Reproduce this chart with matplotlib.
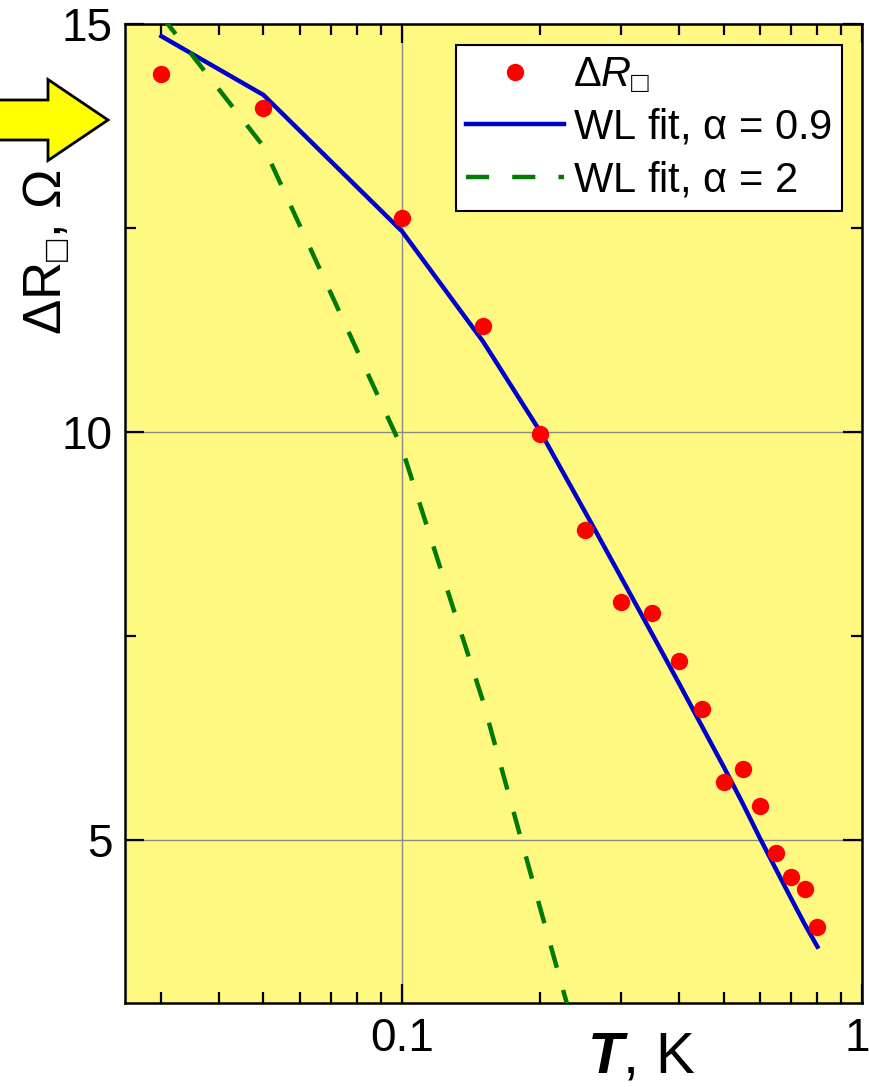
import numpy as np
import matplotlib
matplotlib.use("Agg")
import matplotlib.pyplot as plt
from matplotlib.patches import FancyArrow
from matplotlib.transforms import ScaledTranslation
from matplotlib.ticker import FixedLocator, NullFormatter, FixedFormatter, MultipleLocator

plt.rcParams['font.family'] = ['Liberation Sans', 'DejaVu Sans']
plt.rcParams['mathtext.fontset'] = 'custom'
plt.rcParams['mathtext.rm'] = 'Liberation Sans'
plt.rcParams['mathtext.it'] = 'Liberation Sans:italic'
plt.rcParams['mathtext.bf'] = 'Liberation Sans:italic:bold'

SQ = '\u25a1'

# measured sheet resistance change vs temperature
T_data = [0.03, 0.05, 0.1, 0.15, 0.2, 0.25, 0.3, 0.35, 0.4, 0.45,
          0.5, 0.55, 0.6, 0.65, 0.7, 0.75, 0.8]
dR_data = [14.39, 13.97, 12.62, 11.30, 9.98, 8.80, 7.92, 7.78, 7.19, 6.60,
           5.71, 5.87, 5.42, 4.84, 4.55, 4.40, 3.93]

# weak localization fit, alpha = 0.9
T_fit1 = T_data
dR_fit1 = [14.85, 14.13, 12.46, 11.11, 10.00, 9.02, 8.21, 7.52, 6.92, 6.38,
           5.90, 5.45, 5.02, 4.64, 4.29, 3.97, 3.69]

# weak localization fit, alpha = 2
T_fit2 = [0.03, 0.05, 0.1, 0.15, 0.2, 0.25]
dR_fit2 = [15.1, 13.5, 9.8, 6.7, 4.15, 2.2]

fig = plt.figure(figsize=(8.7, 10.87), dpi=100)
ax = fig.add_axes([125/870, 84/1087, 737/870, 979/1087])
ax.set_facecolor('#fff981')

ax.plot(T_data, dR_data, 'o', color='#ff0000', ms=12.5, mec='none',
        label=r'$\Delta R_{' + SQ + '}$', zorder=4)
ax.plot(T_fit1, dR_fit1, '-', color='#0000cc', lw=3.2,
        label=r'WL fit, $\mathrm{\alpha}$ = 0.9', zorder=3)
ax.plot(T_fit2, dR_fit2, '--', color='#007a00', lw=3.2, dashes=(5.2, 5.2),
        label=r'WL fit, $\mathrm{\alpha}$ = 2', zorder=3)

ax.set_xscale('log')
ax.set_xlim(0.025, 1.0)
ax.set_ylim(3, 15)

ax.xaxis.set_major_locator(FixedLocator([0.1, 1.0]))
ax.xaxis.set_major_formatter(FixedFormatter(['0.1', '1']))
ax.xaxis.set_minor_locator(FixedLocator([0.03, 0.04, 0.05, 0.06, 0.07, 0.08, 0.09,
                                         0.2, 0.3, 0.4, 0.5, 0.6, 0.7, 0.8, 0.9]))
ax.xaxis.set_minor_formatter(NullFormatter())
ax.yaxis.set_major_locator(FixedLocator([5, 10, 15]))
ax.yaxis.set_minor_locator(MultipleLocator(2.5))

ax.tick_params(which='both', direction='in', top=True, right=True,
               width=1.6, labelsize=33, color='black')
ax.tick_params(which='major', length=14)
ax.tick_params(axis='x', which='major', pad=10)
ax.tick_params(axis='y', which='major', pad=9)
ax.tick_params(which='minor', length=8)

ax.grid(True, which='major', color='#8a8a80', lw=1)
ax.set_axisbelow(True)
for sp in ax.spines.values():
    sp.set_linewidth(1.8)

leg = ax.legend(loc='upper right', bbox_to_anchor=((842-125)/737, (1003-45)/979),
                borderaxespad=0, fontsize=30, frameon=True, fancybox=False,
                framealpha=1, edgecolor='black', handlelength=2.35,
                handletextpad=0.2, borderpad=0.25, labelspacing=0.3)
leg.get_frame().set_linewidth(1.5)

ax.set_xlabel(r'$\mathbf{T}$, K', fontsize=42)
ax.xaxis.set_label_coords(0.7, -0.028)
fig.text(47/870, 1 - 252/1087, r'$\Delta\mathrm{R}_{' + SQ + r'}$, $\Omega$',
         rotation=90, ha='center', va='center', fontsize=38)

# pointer arrow at the left
arrow = FancyArrow(-0.05, 9.67, 1.13, 0, width=0.40, head_width=0.81,
                   head_length=0.60, length_includes_head=True,
                   facecolor='#ffff00', edgecolor='black', lw=2,
                   transform=fig.dpi_scale_trans, clip_on=False)
fig.patches.append(arrow)

# keep the "1" label inside the figure edge
fig.canvas.draw()
lab = ax.xaxis.get_major_ticks()[1].label1
lab.set_horizontalalignment('right')
lab.set_transform(lab.get_transform() + ScaledTranslation(0.08, 0, fig.dpi_scale_trans))

fig.savefig('out.png', dpi=100)
